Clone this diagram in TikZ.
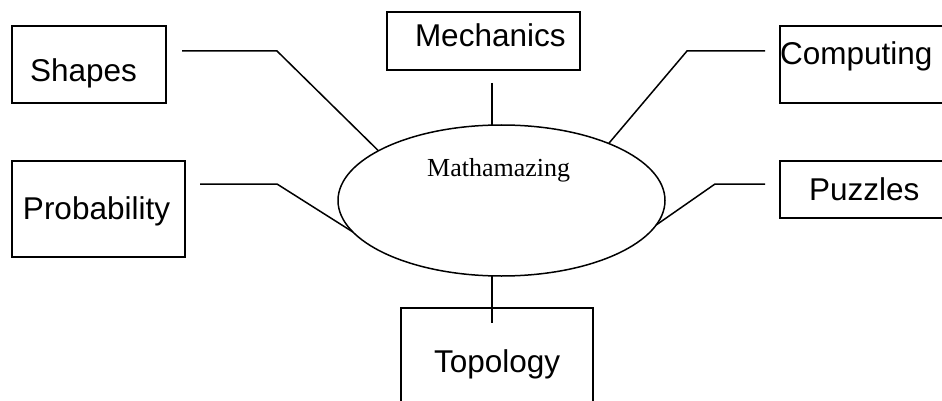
\documentclass[tikz,border=0pt]{standalone}
\usepackage{fontspec}
\setmainfont{Liberation Sans}
\newfontfamily\serifface{Liberation Serif}
\usetikzlibrary{shapes.geometric}
\tikzset{
  box/.style={draw=black, line width=1.6pt, rectangle, inner sep=0pt, outer sep=0pt},
  lbl/.style={inner sep=0pt, outer sep=0pt, font=\fontsize{31.5}{36}\selectfont, anchor=base west},
  hubshape/.style={draw=black, line width=1.5pt, ellipse, inner sep=0pt, outer sep=0pt,
    minimum width=327pt, minimum height=151pt},
  link/.style={draw=black, line width=1.5pt}
}
\begin{document}
\begin{tikzpicture}[x=1pt,y=-1pt]
\useasboundingbox (0,0) rectangle (942,401);
% boxes
\node[box, minimum width=154pt, minimum height=77pt] (shapes) at (89,64.5) {};
\node[lbl] (shapesT) at (30,82) {Shapes};
\node[box, minimum width=193pt, minimum height=58pt] (mech) at (483.5,41) {};
\node[lbl] (mechT) at (415,47) {Mechanics};
\node[box, minimum width=180pt, minimum height=77pt] (comp) at (870,64.5) {};
\node[lbl] (compT) at (780,65) {Computing};
\node[box, minimum width=173pt, minimum height=96pt] (prob) at (98.5,209) {};
\node[lbl] (probT) at (23,219) {Probability};
\node[box, minimum width=180pt, minimum height=57pt] (puzz) at (870,189.5) {};
\node[lbl] (puzzT) at (809,200) {Puzzles};
\node[box, minimum width=192pt, minimum height=120pt] (topo) at (497,368) {};
\node[lbl] (topoT) at (434,372) {Topology};
% hub
\node[hubshape] (hub) at (501.5,200.5) {};
\node[inner sep=0pt, anchor=base west, font=\serifface\fontsize{26}{30}\selectfont] (hubT) at (427,176) {Mathamazing};
% connector coordinates
\coordinate (s1) at (182,51);
\coordinate (s2) at (277,51);
\coordinate (m1) at (492,83);
\coordinate (c1) at (765,51);
\coordinate (c2) at (687,51);
\coordinate (p1) at (200,184);
\coordinate (p2) at (277,184);
\coordinate (z1) at (765,184);
\coordinate (z2) at (715,184);
\coordinate (t1) at (492,323);
% connectors
\draw[link] (s1) -- (s2) -- (hub.158.9);
\draw[link] (m1) -- (m1 |- hub.north);
\draw[link] (c1) -- (c2) -- (hub.28.8);
\draw[link] (p1) -- (p2) -- (hub.192.5);
\draw[link] (z1) -- (z2) -- (hub.-9.1);
\draw[link] (t1 |- hub.south) -- (t1);
\end{tikzpicture}
\end{document}
